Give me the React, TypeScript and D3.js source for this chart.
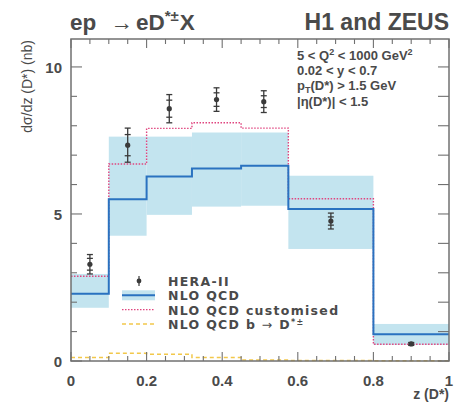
import * as d3 from "d3";

// bin edges in z(D*)
const binEdges = [0, 0.1, 0.2, 0.32, 0.45, 0.575, 0.8, 1.0];

// HERA-II combined data
const dataZ = [0.05, 0.15, 0.26, 0.385, 0.51, 0.6875, 0.9];
const dataVal = [3.29, 7.34, 8.58, 8.89, 8.82, 4.76, 0.58];
const dataStat = [0.2, 0.36, 0.29, 0.23, 0.2, 0.14, 0.03];
const dataTot = [0.33, 0.58, 0.48, 0.4, 0.37, 0.27, 0.05];

// NLO QCD predictions per bin
const nloCentral = [2.29, 5.5, 6.27, 6.55, 6.64, 5.17, 0.91];
const nloLow = [1.81, 4.26, 4.97, 5.25, 5.28, 3.81, 0.55];
const nloHigh = [2.96, 7.63, 7.63, 7.77, 7.77, 6.3, 1.26];
const nloCustom = [2.88, 6.7, 7.91, 8.1, 7.92, 5.52, 0.57];
const nloBeauty = [0.12, 0.26, 0.23, 0.12, 0.03, 0.02, 0.01];

const xTickLabels = ["0", "0.2", "0.4", "0.6", "0.8", "1"];
const yTickLabels = ["0", "5", "10"];
const legendLabels = ["HERA-II", "NLO QCD", "NLO QCD customised"];

const FONT = "'Liberation Sans', Arial, Helvetica, sans-serif";
const LEG_FONT = "'DejaVu Sans', 'Liberation Sans', sans-serif";
const TXT = "#4a4a4a";
const FRAME = "#707070";

export default function App() {
  const width = 455;
  const height = 403;
  const margin = { top: 39, right: 6, bottom: 42, left: 71 };
  const w = width - margin.left - margin.right;
  const h = height - margin.top - margin.bottom;

  const x = d3.scaleLinear().domain([0, 1]).range([0, w]);
  const y = d3.scaleLinear().domain([0, 10.95]).range([h, 0]);

  const step = (vals: number[]) => {
    const pts: [number, number][] = vals.map((v, i) => [binEdges[i], v]);
    pts.push([binEdges[binEdges.length - 1], vals[vals.length - 1]]);
    return d3
      .line<[number, number]>()
      .x((d) => x(d[0]))
      .y((d) => y(d[1]))
      .curve(d3.curveStepAfter)(pts) as string;
  };

  const xMinor = d3.range(0, 1.0001, 0.05);
  const yMinor = d3.range(0, 11, 1);

  // legend geometry
  const lgX = 58;
  const lgY = 242;
  const lgRow = 14.3;

  return (
    <svg width={width} height={height} style={{ position: "absolute", left: 0, top: 0, background: "#fff" }} fontFamily={FONT}>
      {/* title */}
      <text x={70} y={30} fontSize={22.5} fontWeight="bold" fill={TXT}>
        ep <tspan dx={8}>→</tspan>
        <tspan dx={3}>eD</tspan>
        <tspan fontSize={15} dy={-9}>*±</tspan>
        <tspan dy={9} dx={1}>X</tspan>
      </text>
      <text x={449} y={30} fontSize={23} fontWeight="bold" fill={TXT} textAnchor="end">
        H1 and ZEUS
      </text>

      {/* y axis label */}
      <text transform={`translate(32,40) rotate(-90)`} fontSize={14} fill={TXT} textAnchor="end">
        dσ/dz (D*) (nb)
      </text>

      <g transform={`translate(${margin.left},${margin.top})`}>
        {/* NLO uncertainty band */}
        {nloLow.map((lo, i) => (
          <rect
            key={`b${i}`}
            x={x(binEdges[i])}
            width={x(binEdges[i + 1]) - x(binEdges[i])}
            y={y(nloHigh[i])}
            height={y(lo) - y(nloHigh[i])}
            fill="#c3e4ef"
          />
        ))}

        <path d={step(nloBeauty)} fill="none" stroke="#f2c84b" strokeWidth={1.5} strokeDasharray="4,3" />
        <path d={step(nloCustom)} fill="none" stroke="#e0457f" strokeWidth={1.4} strokeDasharray="1.5,1.5" />
        <path d={step(nloCentral)} fill="none" stroke="#2a72c0" strokeWidth={2} />

        {/* data points */}
        {dataZ.map((z, i) => {
          const cx = x(z);
          return (
            <g key={`p${i}`} stroke="#3a3a3a" strokeWidth={1.3}>
              <line x1={cx} x2={cx} y1={y(dataVal[i] + dataTot[i])} y2={y(dataVal[i] - dataTot[i])} />
              {[dataVal[i] + dataTot[i], dataVal[i] - dataTot[i], dataVal[i] + dataStat[i], dataVal[i] - dataStat[i]].map((v, k) => (
                <line key={k} x1={cx - 3} x2={cx + 3} y1={y(v)} y2={y(v)} />
              ))}
              <circle cx={cx} cy={y(dataVal[i])} r={2.6} fill="#3a3a3a" stroke="none" />
            </g>
          );
        })}

        {/* frame */}
        <rect x={0} y={0} width={w} height={h} fill="none" stroke={FRAME} strokeWidth={1.5} />

        {/* x ticks (bottom & top, inward) */}
        {xMinor.map((t, i) => {
          const len = i % 4 === 0 ? 9 : 5;
          return (
            <g key={`xt${i}`} stroke={FRAME} strokeWidth={1.1}>
              <line x1={x(t)} x2={x(t)} y1={h} y2={h - len} />
              <line x1={x(t)} x2={x(t)} y1={0} y2={len} />
            </g>
          );
        })}
        {/* y ticks (left & right, inward) */}
        {yMinor.map((t, i) => (
          <g key={`yt${i}`} stroke={FRAME} strokeWidth={1.1}>
            <line x1={0} x2={i % 5 === 0 ? 11 : 6} y1={y(t)} y2={y(t)} />
            <line x1={w} x2={w - 11} y1={y(t)} y2={y(t)} />
          </g>
        ))}

        {/* tick labels */}
        {xTickLabels.map((l) => (
          <text key={`xl${l}`} x={x(+l)} y={h + 25} fontSize={15} fontWeight="bold" fill={TXT} textAnchor="middle">
            {l}
          </text>
        ))}
        {yTickLabels.map((l) => (
          <text key={`yl${l}`} x={-9} y={y(+l) + 6} fontSize={15} fontWeight="bold" fill={TXT} textAnchor="end">
            {l}
          </text>
        ))}

        {/* axis title */}
        <text x={w} y={h + 38} fontSize={14} fontWeight="bold" fill={TXT} textAnchor="end">
          z (D*)
        </text>

        {/* selection text */}
        <g fontSize={13} fontWeight="bold" fill={TXT}>
          <text x={226} y={21}>
            5 &lt; Q<tspan fontSize={9} dy={-5}>2</tspan>
            <tspan dy={5}> &lt; 1000 GeV</tspan>
            <tspan fontSize={9} dy={-5}>2</tspan>
          </text>
          <text x={226} y={36}>0.02 &lt; y &lt; 0.7</text>
          <text x={226} y={51}>
            p<tspan fontSize={9} dy={3}>T</tspan>
            <tspan dy={-3}>(D*) &gt; 1.5 GeV</tspan>
          </text>
          <text x={226} y={67}>|η(D*)| &lt; 1.5</text>
        </g>

        {/* legend */}
        <g>
          <line x1={lgX + 10} x2={lgX + 10} y1={lgY - 5} y2={lgY + 5} stroke="#3a3a3a" strokeWidth={1.2} />
          <circle cx={lgX + 10} cy={lgY} r={2.4} fill="#3a3a3a" />
          <rect x={lgX - 7} y={lgY + lgRow - 5} width={33} height={10} fill="#c3e4ef" />
          <line x1={lgX - 7} x2={lgX + 26} y1={lgY + lgRow} y2={lgY + lgRow} stroke="#2a72c0" strokeWidth={2} />
          <line x1={lgX - 7} x2={lgX + 26} y1={lgY + 2 * lgRow} y2={lgY + 2 * lgRow} stroke="#e0457f" strokeWidth={1.4} strokeDasharray="1.5,1.5" />
          <line x1={lgX - 7} x2={lgX + 26} y1={lgY + 3 * lgRow} y2={lgY + 3 * lgRow} stroke="#f2c84b" strokeWidth={1.5} strokeDasharray="4,3" />
          <g fontSize={12.5} fontWeight="bold" fill={TXT} fontFamily={LEG_FONT} letterSpacing={1.3}>
            {legendLabels.map((t, i) => (
              <text key={t} x={lgX + 39} y={lgY + i * lgRow + 5}>
                {t}
              </text>
            ))}
            <text x={lgX + 39} y={lgY + 3 * lgRow + 5}>
              NLO QCD b <tspan fontWeight="normal">→</tspan> D<tspan fontSize={8} dy={-4}>*±</tspan>
            </text>
          </g>
        </g>
      </g>
    </svg>
  );
}
